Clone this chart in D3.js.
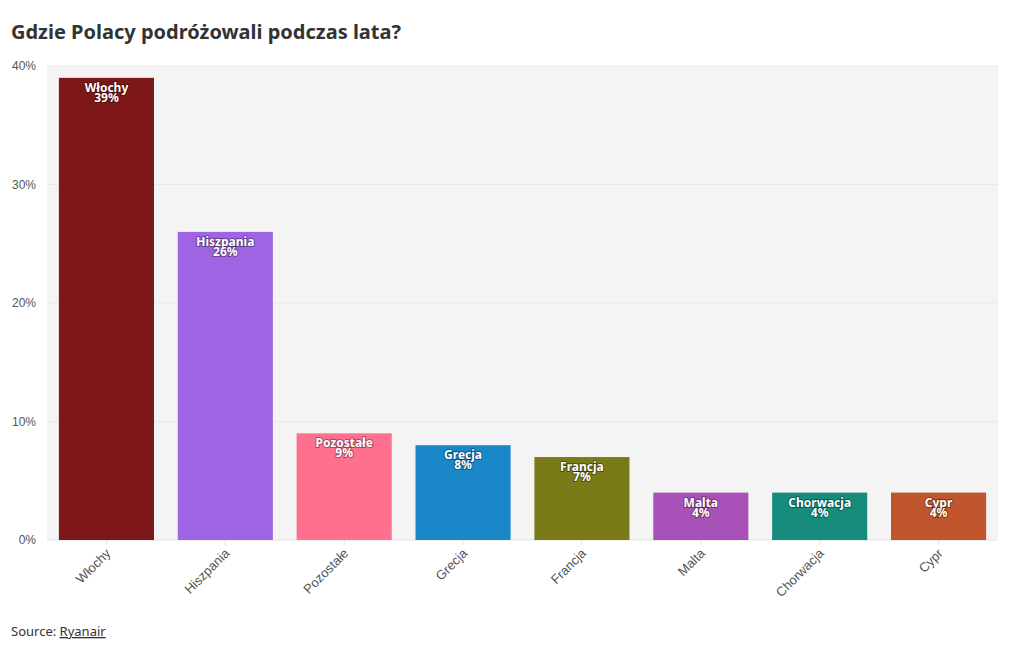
<!DOCTYPE html>
<html>
<head>
<meta charset="utf-8">
<script src="https://cdn.jsdelivr.net/npm/d3@7"></script>
<style>
  body { margin: 0; background: #fff; font-family: "Noto Sans", "Open Sans", sans-serif; }
  .title { font-size: 20px; font-weight: bold; fill: #333; }
  .tick text { fill: #555; }
  .source { font-size: 13px; fill: #333; }
  .lbl { font-weight: bold; fill: #fff; font-size: 12px; paint-order: stroke; stroke: rgba(0,0,0,0.35); stroke-width: 2px; }
</style>
</head>
<body>
<svg id="chart" width="1020" height="650"></svg>
<script>
// data
const countries = ["Włochy", "Hiszpania", "Pozostałe", "Grecja", "Francja", "Malta", "Chorwacja", "Cypr"];
const shares = [39, 26, 9, 8, 7, 4, 4, 4];
const colors = ["#7e1718", "#9e64e3", "#ff6f8e", "#1a87c9", "#7b7a19", "#a851b8", "#168c7c", "#c0552e"];
const yTicks = [0, 10, 20, 30, 40];

const svg = d3.select("#chart");
const margin = {top: 66, right: 22, bottom: 110, left: 47};
const W = 1020, H = 650;

svg.append("text").attr("class", "title")
    .attr("x", 11).attr("y", 39)
    .text("Gdzie Polacy podróżowali podczas lata?");

let x = d3.scaleBand().domain(countries)
    .range([margin.left, W - margin.right])
    .paddingInner(0.2).paddingOuter(0.1);
let y = d3.scaleLinear().domain([0, 40]).range([H - margin.bottom, margin.top]);

// plot background
svg.append("rect")
    .attr("x", margin.left).attr("y", margin.top)
    .attr("width", W - margin.right - margin.left)
    .attr("height", H - margin.bottom - margin.top)
    .attr("fill", "#f4f4f4");

// grid
svg.append("g").selectAll("line").data(yTicks.slice(1)).enter().append("line")
    .attr("x1", margin.left).attr("x2", W - margin.right)
    .attr("y1", d => y(d)).attr("y2", d => y(d))
    .attr("stroke", "#e9e9e9");
svg.append("line")
    .attr("x1", margin.left).attr("x2", W - margin.right)
    .attr("y1", y(0)).attr("y2", y(0))
    .attr("stroke", "#e2e2e2");

// y axis
let yAxis = svg.append("g")
    .attr("transform", "translate(" + (margin.left - 8) + ",0)")
    .call(d3.axisLeft(y).tickValues(yTicks).tickSize(0).tickFormat(d => d + "%"));
yAxis.select(".domain").remove();
yAxis.selectAll("text").style("font-size", "12px").attr("dy", "0.32em");

// x axis
let xAxis = svg.append("g")
    .attr("transform", "translate(0," + y(0) + ")")
    .call(d3.axisBottom(x).tickSize(5).tickPadding(6));
xAxis.select(".domain").remove();
xAxis.selectAll("line").attr("stroke", "#e2e2e2");
xAxis.selectAll("text")
    .style("font-size", "13px")
    .attr("text-anchor", "end")
    .attr("dx", "-0.5em").attr("dy", "0.2em")
    .attr("transform", "rotate(-45)");

// bars
let bars = svg.append("g").selectAll(".bar").data(countries).enter();
bars.append("rect")
    .attr("class", "bar")
    .attr("x", d => x(d))
    .attr("y", (d, i) => y(shares[i]))
    .attr("width", x.bandwidth())
    .attr("height", (d, i) => y(0) - y(shares[i]))
    .attr("fill", (d, i) => colors[i]);

bars.append("text").attr("class", "lbl")
    .attr("x", d => x(d) + x.bandwidth() / 2)
    .attr("y", (d, i) => y(shares[i]) + 14)
    .attr("text-anchor", "middle")
    .text(d => d);
bars.append("text").attr("class", "lbl")
    .attr("x", d => x(d) + x.bandwidth() / 2)
    .attr("y", (d, i) => y(shares[i]) + 24)
    .attr("text-anchor", "middle")
    .text((d, i) => shares[i] + "%");

// source
let src = svg.append("text").attr("class", "source").attr("x", 11).attr("y", 636);
src.append("tspan").text("Source: ");
src.append("tspan").attr("text-decoration", "underline").text("Ryanair");
</script>
</body>
</html>
